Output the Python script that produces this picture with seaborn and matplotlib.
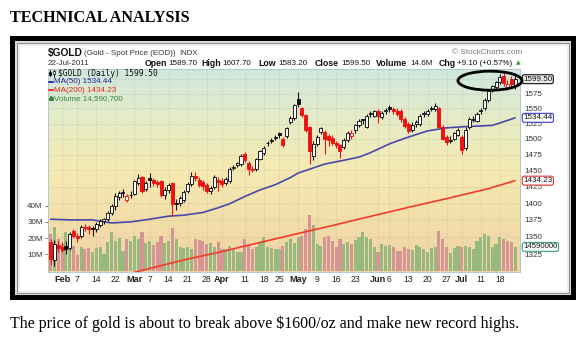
import numpy as np
import pandas as pd
import matplotlib
matplotlib.use("Agg")
import matplotlib.pyplot as plt
from matplotlib.patches import Rectangle, Ellipse
from matplotlib.lines import Line2D
from matplotlib.colors import LinearSegmentedColormap
from matplotlib.transforms import blended_transform_factory
from matplotlib.ticker import NullLocator
import seaborn as sns

# ---------------------------------------------------------------- data
holidays = ["2011-02-21", "2011-04-22", "2011-05-30", "2011-07-04"]
days = pd.bdate_range("2011-01-27", "2011-07-22")
days = days[~days.isin(pd.to_datetime(holidays))]

opens = [1342, 1317, 1339, 1336, 1337, 1334, 1358, 1352, 1351, 1365,
         1364, 1363, 1361, 1368, 1373, 1377, 1385, 1395, 1409, 1415,
         1405, 1413, 1414, 1430, 1440, 1421, 1438, 1435, 1432, 1434,
         1412, 1420, 1430, 1400, 1400, 1405, 1418, 1429, 1442, 1436,
         1432, 1427, 1419, 1424, 1436, 1434, 1430, 1434, 1454, 1459,
         1460, 1476, 1462, 1453, 1452, 1468, 1478, 1493, 1497, 1502,
         1509, 1500, 1505, 1527, 1534, 1566, 1550, 1539, 1519, 1472,
         1492, 1511, 1511, 1505, 1502, 1494, 1490, 1487, 1498, 1505,
         1514, 1522, 1532, 1520, 1540, 1538, 1546, 1535, 1545, 1553,
         1549, 1546, 1546, 1532, 1524, 1514, 1524, 1525, 1540, 1541,
         1549, 1549, 1550, 1519, 1503, 1497, 1500, 1507, 1503, 1485,
         1519, 1531, 1530, 1545, 1550, 1564, 1582, 1586, 1594, 1605,
         1584, 1600, 1589.7]
highs = [1347, 1346, 1344, 1342, 1344, 1357, 1361, 1356, 1367, 1369,
         1367, 1366, 1372, 1376, 1378, 1388, 1399, 1415, 1419, 1421,
         1414, 1418, 1436, 1444, 1442, 1433, 1446, 1438, 1436, 1436,
         1424, 1431, 1432, 1406, 1411, 1420, 1432, 1447, 1447, 1440,
         1436, 1430, 1426, 1443, 1440, 1438, 1440, 1455, 1459, 1463,
         1476, 1479, 1465, 1457, 1470, 1482, 1488, 1497, 1501, 1506,
         1512, 1503, 1520, 1537, 1558, 1578, 1553, 1541, 1521, 1496,
         1507, 1520, 1514, 1508, 1506, 1497, 1492, 1501, 1513, 1515,
         1525, 1532, 1533, 1541, 1545, 1547, 1549, 1545, 1551, 1556,
         1552, 1550, 1549, 1535, 1527, 1527, 1531, 1541, 1546, 1549,
         1554, 1559, 1553, 1522, 1506, 1504, 1512, 1518, 1506, 1519,
         1536, 1537, 1544, 1551, 1567, 1583, 1590, 1597, 1609, 1611,
         1598, 1605, 1607.7]
lows = [1310, 1308, 1328, 1329, 1326, 1331, 1348, 1343, 1348, 1358,
        1354, 1352, 1357, 1364, 1369, 1374, 1382, 1390, 1405, 1409,
        1402, 1408, 1412, 1427, 1415, 1418, 1424, 1426, 1425, 1409,
        1406, 1415, 1381, 1390, 1395, 1402, 1415, 1426, 1433, 1424,
        1420, 1416, 1414, 1421, 1419, 1424, 1427, 1431, 1450, 1455,
        1457, 1463, 1443, 1447, 1449, 1466, 1474, 1489, 1494, 1498,
        1502, 1487, 1502, 1524, 1531, 1553, 1535, 1512, 1460, 1467,
        1489, 1508, 1476, 1489, 1490, 1486, 1470, 1484, 1495, 1500,
        1510, 1519, 1524, 1517, 1536, 1536, 1526, 1532, 1541, 1544,
        1541, 1538, 1528, 1518, 1509, 1512, 1520, 1521, 1535, 1538,
        1545, 1545, 1517, 1498, 1490, 1493, 1498, 1504, 1476, 1483,
        1516, 1527, 1527, 1541, 1547, 1561, 1577, 1583, 1591, 1588,
        1581, 1584, 1583.2]
closes = [1318, 1340, 1334, 1331, 1333, 1355, 1352, 1349, 1365, 1363,
          1361, 1362, 1369, 1373, 1376, 1385, 1395, 1410, 1416, 1417,
          1411, 1412, 1434, 1439, 1419, 1430, 1435, 1431, 1429, 1413,
          1420, 1427, 1398, 1399, 1408, 1417, 1429, 1441, 1438, 1428,
          1426, 1419, 1423, 1440, 1432, 1429, 1437, 1452, 1456, 1461,
          1473, 1466, 1452, 1451, 1468, 1480, 1486, 1494, 1498, 1503,
          1507, 1490, 1517, 1534, 1555, 1557, 1539, 1514, 1481, 1492,
          1503, 1517, 1500, 1498, 1494, 1490, 1481, 1499, 1510, 1509,
          1522, 1530, 1531, 1538, 1542, 1546, 1537, 1543, 1547, 1549,
          1545, 1541, 1532, 1521, 1513, 1523, 1527, 1538, 1542, 1546,
          1551, 1554, 1520, 1500, 1495, 1499, 1509, 1515, 1483, 1515,
          1532, 1533, 1541, 1548, 1564, 1580, 1587, 1594, 1603, 1593,
          1591, 1590.4, 1599.5]
volume_m = [22.6, 26.7, 19.5, 16.5, 23.7, 20.6, 15.4, 9.3, 14.4, 13.4,
            13.8, 11.3, 13.8, 14.4, 10.3, 17.5, 23.7, 18.5, 20.0,
            12.3, 19.5, 18.5, 21.2, 19.5, 23.7, 17.1, 18.5, 15.8, 17.5,
            21.6, 17.1, 18.5, 26.1, 19.5, 14.4, 13.8, 14.4, 13.4, 19.5,
            19.1, 18.5, 16.5, 17.1, 14.4, 17.5, 13.4, 13.0, 15.4, 13.8,
            11.3, 11.7, 19.5, 16.5, 13.4, 14.4, 17.5, 20.6, 14.4, 13.8,
            13.4, 13.4, 15.4, 17.5, 19.5, 17.1, 20.6, 21.6, 25.7, 34.4,
            28.2, 16.5, 15.4, 20.6, 21.6, 18.5, 14.4, 19.5, 16.5, 17.5,
            16.5, 19.1, 20.6, 24.1, 20.6, 19.5, 14.4, 11.3, 16.5, 15.4,
            15.8, 14.4, 12.3, 12.3, 14.4, 13.4, 12.8, 15.8, 14.4,
            13.4, 11.3, 13.8, 14.4, 24.7, 19.5, 14.4, 10.9, 13.8,
            15.4, 14.4, 15.4, 14.4, 13.4, 18.5, 20.6, 22.6, 21.6, 14.4,
            16.5, 20.6, 19.5, 18.5, 17.9, 14.59]

ma50_dates = ["2011-01-27", "2011-02-03", "2011-02-11", "2011-02-18", "2011-02-28",
              "2011-03-07", "2011-03-14", "2011-03-18", "2011-03-25", "2011-03-31",
              "2011-04-05", "2011-04-11", "2011-04-15", "2011-04-21", "2011-04-28",
              "2011-05-02", "2011-05-05", "2011-05-11", "2011-05-18", "2011-05-24",
              "2011-05-27", "2011-06-06", "2011-06-10", "2011-06-20", "2011-06-27",
              "2011-07-05", "2011-07-11", "2011-07-14", "2011-07-19", "2011-07-22"]
ma50 = [1376, 1375, 1375, 1370.5, 1372, 1376, 1380.5, 1382, 1386, 1393,
        1399, 1410, 1420, 1428, 1439, 1446, 1452, 1460, 1466, 1471,
        1478, 1492, 1501, 1513, 1518, 1520, 1521, 1522, 1528, 1534.44]

ma200_dates = ["2011-02-25", "2011-03-02", "2011-03-18", "2011-04-01", "2011-04-15",
               "2011-05-02", "2011-05-16", "2011-05-31", "2011-06-14", "2011-06-28",
               "2011-07-13", "2011-07-22"]
ma200 = [1297, 1301, 1317, 1329, 1342, 1355, 1368, 1381.5, 1395, 1408, 1422, 1434.23]

month_ticks = [("2011-02-01", "Feb"), ("2011-03-01", "Mar"), ("2011-04-01", "Apr"),
               ("2011-05-02", "May"), ("2011-06-01", "Jun"), ("2011-07-01", "Jul")]
day_ticks = [("2011-02-07", "7"), ("2011-02-14", "14"), ("2011-02-22", "22"),
             ("2011-03-07", "7"), ("2011-03-14", "14"), ("2011-03-21", "21"),
             ("2011-03-28", "28"), ("2011-04-11", "11"), ("2011-04-18", "18"),
             ("2011-04-25", "25"), ("2011-05-09", "9"), ("2011-05-16", "16"),
             ("2011-05-23", "23"), ("2011-06-06", "6"), ("2011-06-13", "13"),
             ("2011-06-20", "20"), ("2011-06-27", "27"), ("2011-07-11", "11"),
             ("2011-07-18", "18")]
price_ticks = [1325, 1350, 1375, 1400, 1425, 1450, 1475, 1500, 1525, 1550, 1575]
volume_ticks = [10, 20, 30, 40]

# ---------------------------------------------------------------- style
sns.set_theme(style="white")
plt.rcParams["font.family"] = ["Liberation Sans", "DejaVu Sans"]

W, H = 583, 339
fig = plt.figure(figsize=(W / 100, H / 100), dpi=100)
fig.patch.set_facecolor("white")


def fx(x):
    return x / W


def fy(y):
    return 1 - y / H


def frect(x0, y0, x1, y1, **kw):
    fig.add_artist(Rectangle((fx(x0), fy(y1)), (x1 - x0) / W, (y1 - y0) / H,
                             transform=fig.transFigure, lw=0, **kw))


def ftext(x, y, s, **kw):
    kw.setdefault("va", "center")
    kw.setdefault("ha", "left")
    fig.text(fx(x), fy(y), s, **kw)


pos = {d: i for i, d in enumerate(days)}


def xpos(dlist):
    return np.array([pos[pd.Timestamp(d)] for d in dlist], dtype=float)


# picture frame
frect(10, 36, 576, 300, fc="black", zorder=-10)
frect(15, 41, 571, 295, fc="#dcdcdc", zorder=-9)
frect(16.5, 42.5, 569.5, 293.5, fc="#8c8c8c", zorder=-8)
frect(17.5, 43.5, 568.5, 292.5, fc="#ececec", zorder=-7)
frect(19.5, 45.5, 566.5, 290.5, fc="white", zorder=-6)

# plot panels
px0, px1, py0, py1 = 47.6, 520.4, 69.3, 271.7
rect = [fx(px0), fy(py1), (px1 - px0) / W, (py1 - py0) / H]
ax_vol = fig.add_axes(rect, zorder=1)
ax = fig.add_axes(rect, zorder=2)
ax.patch.set_alpha(0)

xlim = (-0.8, 123.4)

# background gradient
bg = LinearSegmentedColormap.from_list(
    "bg", [(0.0, "#f0d2a6"), (0.28, "#f3dfa9"), (0.5, "#f5eab2"),
           (0.75, "#e6ecc6"), (1.0, "#cfe7df")])
ax_vol.imshow(np.linspace(0, 1, 256).reshape(-1, 1), cmap=bg, origin="lower",
              aspect="auto", extent=[0, 1, 0, 1], transform=ax_vol.transAxes,
              zorder=0)

n = len(closes)
x = np.arange(n, dtype=float)
o = np.array(opens, float)
h = np.array(highs, float)
l = np.array(lows, float)
c = np.array(closes, float)
prev = np.r_[np.inf, c[:-1]]
up = c >= prev

# volume
vcol = np.where(up, "#98b97e", "#d69592")
ax_vol.bar(x, volume_m, width=0.82, color=vcol, edgecolor="none", zorder=2)
ax_vol.set_xlim(*xlim)
ax_vol.set_ylim(-0.7, 124.2)
ax_vol.set_yticks(volume_ticks)
ax_vol.set_yticklabels([f"{v}M" for v in volume_ticks])
ax_vol.tick_params(axis="y", left=True, length=2, width=0.6, color="#666666",
                   pad=1.5, labelsize=5.8, labelcolor="#333333")
ax_vol.set_xticks([])
for s in ax_vol.spines.values():
    s.set_visible(False)

# price panel (log scale)
ax.set_yscale("log")
ax.set_xlim(*xlim)
ax.set_ylim(1300.5, 1616.6)

week_x = xpos([d for d, _ in month_ticks + day_ticks])
for wx in week_x:
    ax.axvline(wx, color="#b9b9a6", lw=0.45, ls=(0, (1, 1.6)), zorder=1)
for py in price_ticks + [1600]:
    ax.axhline(py, color="#b9b9a6", lw=0.45, ls=(0, (1, 1.6)), zorder=1)

sns.lineplot(x=xpos(ma200_dates), y=ma200, ax=ax, color="#f23b2b",
             linewidth=1.2, legend=False, zorder=2)
sns.lineplot(x=xpos(ma50_dates), y=ma50, ax=ax, color="#4a48ab",
             linewidth=1.2, legend=False, zorder=2)

# candlesticks
edge = np.where(up, "#111111", "#f01010")
hollow = c > o
fill = np.where(hollow, "white", edge)
ax.vlines(x, l, h, colors=edge, lw=0.8, zorder=3)
body_lo = np.minimum(o, c)
body_h = np.maximum(np.abs(c - o), 0.7)
ax.bar(x, body_h, bottom=body_lo, width=0.8, color=fill, edgecolor=edge,
       linewidth=0.65, zorder=4)

ax.set_xlabel("")
ax.set_ylabel("")
ax.yaxis.set_minor_locator(NullLocator())
ax.set_yticks(price_ticks)
ax.set_yticklabels([str(p) for p in price_ticks])
ax.yaxis.tick_right()
ax.tick_params(axis="y", which="both", length=0, pad=3.2, labelsize=5.8,
               labelcolor="#333333")

tick_list = month_ticks + day_ticks
ax.set_xticks(xpos([d for d, _ in tick_list]))
ax.set_xticklabels([t for _, t in tick_list])
ax.tick_params(axis="x", length=0, pad=2.2, labelsize=6.2, labelcolor="#222222")
months = {t for _, t in month_ticks}
for lab in ax.get_xticklabels():
    if lab.get_text() in months:
        lab.set_fontweight("bold")
        lab.set_fontsize(6.6)

for s in ax.spines.values():
    s.set_color("#a9c3cf")
    s.set_linewidth(0.6)

# value tags on the right edge
tr_price = blended_transform_factory(ax.transAxes, ax.transData)
tags = [(closes[-1], f"{closes[-1]:.2f}", "#111111", "#e6ece4"),
        (ma50[-1], f"{ma50[-1]:.2f}", "#3a3ad0", "white"),
        (ma200[-1], f"{ma200[-1]:.2f}", "#e03030", "white")]
for val, txt, ec, fc in tags:
    ax.text(1.006, val, txt, transform=tr_price, fontsize=5.8, va="center",
            ha="left", color="#111111", zorder=10, clip_on=False,
            bbox=dict(boxstyle="round,pad=0.12,rounding_size=0.25", fc=fc,
                      ec=ec, lw=0.8))
tr_vol = blended_transform_factory(ax_vol.transAxes, ax_vol.transData)
ax_vol.text(1.006, volume_m[-1], f"{round(volume_m[-1] * 1e6):d}",
            transform=tr_vol, fontsize=5.6, va="center", ha="left",
            color="#111111", zorder=10, clip_on=False,
            bbox=dict(boxstyle="round,pad=0.12,rounding_size=0.25", fc="white",
                      ec="#3aa08a", lw=0.8))

# header
ftext(47.6, 53.0, "$GOLD", fontsize=7.4, fontweight="bold", color="#111111")
ftext(83.5, 53.6, "(Gold - Spot Price (EOD))", fontsize=5.8, color="#333333")
ftext(179.5, 53.6, "INDX", fontsize=5.6, color="#333333")
ftext(452.5, 53.0, "\u00a9 StockCharts.com", fontsize=5.9, color="#7a7a7a")
ftext(47.6, 63.5, "22-Jul-2011", fontsize=5.8, color="#333333")
row = [("Open", 144.2, True), ("1589.70", 168.5, False),
       ("High", 201.5, True), ("1607.70", 222.0, False),
       ("Low", 258.4, True), ("1583.20", 278.5, False),
       ("Close", 314.8, True), ("1599.50", 341.0, False),
       ("Volume", 376.2, True), ("14.6M", 410.5, False),
       ("Chg", 438.8, True), ("+9.10 (+0.57%)", 456.8, False)]
for txt, xx, bold in row:
    ftext(xx, 63.5, txt, fontsize=6.3 if bold else 5.8,
          fontweight="bold" if bold else "normal", color="#111111")
ftext(515.5, 63.0, "\u25b2", fontsize=4.2, color="#2f9a2f",
      family=["DejaVu Sans"])

# legend block inside the price panel
icon = [(50.3, 70.3, 76.4, 71.8, 75.0, "black"), (54.3, 69.8, 76.6, 71.2, 73.8, "white")]
for cx, wy0, wy1, by0, by1, f in icon:
    fig.add_artist(Line2D([fx(cx), fx(cx)], [fy(wy0), fy(wy1)], lw=0.7,
                          color="black", transform=fig.transFigure, zorder=5))
    fig.add_artist(Rectangle((fx(cx - 0.9), fy(by1)), 1.8 / W, (by1 - by0) / H,
                             transform=fig.transFigure, fc=f, ec="black",
                             lw=0.5, zorder=6))
ftext(57.6, 73.4, "$GOLD (Daily) 1599.50", fontsize=5.7, color="#111111",
      family=["DejaVu Sans Mono"])
fig.add_artist(Line2D([fx(48.6), fx(53.4)], [fy(81.8), fy(81.8)], lw=1.4,
                      color="#2a2aa8", transform=fig.transFigure, zorder=5))
ftext(53.8, 81.8, "MA(50) 1534.44", fontsize=5.8, color="#22229a")
fig.add_artist(Line2D([fx(48.6), fx(53.4)], [fy(90.0), fy(90.0)], lw=1.4,
                      color="#ee2a22", transform=fig.transFigure, zorder=5))
ftext(53.8, 90.0, "MA(200) 1434.23", fontsize=5.8, color="#e8281e")
for bx, bh in [(48.7, 3.0), (50.4, 5.0), (52.1, 4.0)]:
    fig.add_artist(Rectangle((fx(bx), fy(100.6)), 1.4 / W, bh / H,
                             transform=fig.transFigure, fc="#3a8a3a", lw=0,
                             zorder=6))
ftext(53.8, 98.2, "Volume 14,590,700", fontsize=5.8, color="#3a8a3a")

# highlight around the latest sessions
fig.add_artist(Ellipse((fx(490), fy(80.7)), 64 / W, 19 / H,
                       transform=fig.transFigure, fill=False, ec="black",
                       lw=2.0, zorder=30))

# page text
ftext(10, 21.5, "TECHNICAL ANALYSIS", fontsize=11.6, fontweight="bold",
      family=["Liberation Serif"], va="baseline", color="black")
ftext(10.4, 327.5,
      "The price of gold is about to break above $1600/oz and make new record highs.",
      fontsize=11.5, family=["Liberation Serif"], va="baseline", color="black")

fig.savefig("out.png", dpi=100)
